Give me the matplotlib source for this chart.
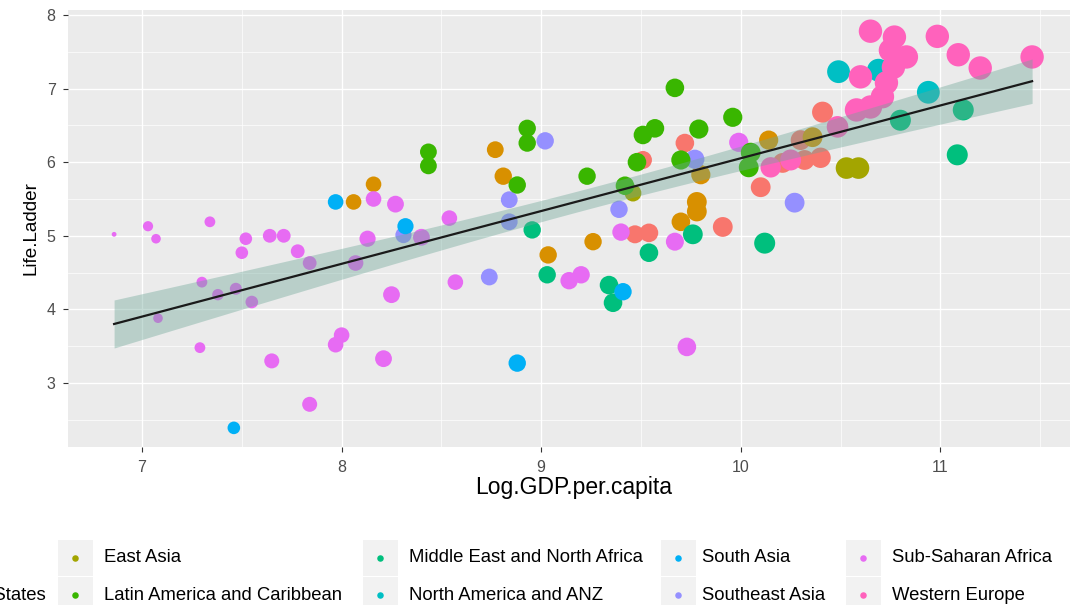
import matplotlib
matplotlib.use('Agg')
import matplotlib.pyplot as plt
from matplotlib.patches import Rectangle
import numpy as np

plt.rcParams['font.family'] = ['Liberation Sans', 'DejaVu Sans']

regions = ['Central and Eastern Europe', 'Commonwealth of Independent States', 'East Asia',
           'Latin America and Caribbean', 'Middle East and North Africa', 'North America and ANZ',
           'South Asia', 'Southeast Asia', 'Sub-Saharan Africa', 'Western Europe']
colors = ['#F8766D', '#D89000', '#A3A500', '#39B600', '#00BF7D',
          '#00BFC4', '#00B0F6', '#9590FF', '#E76BF3', '#FF62BC']
short = ['CEE', 'CIS', 'EA', 'LAC', 'MENA', 'NA', 'SA', 'SEA', 'SSA', 'WE']

# values (Log.GDP.per.capita, Life.Ladder, size variable, region)
gdp = [9.51, 9.47, 9.54, 9.72, 9.91, 10.10, 10.21, 10.30, 10.32, 10.40, 10.41,
       8.06, 8.16, 8.77, 8.81, 9.035, 9.26, 9.80, 9.78, 9.78, 9.70, 10.14, 10.36,
       10.49, 10.69, 10.94,
       6.86, 7.03, 7.07, 7.34, 7.30, 7.29, 7.08, 7.38, 7.47, 7.55, 7.50, 7.52, 7.64, 7.71,
       7.78, 7.84, 7.65, 7.84, 7.97, 8.00, 8.21, 8.25, 8.07, 8.13, 8.16, 8.27, 8.40, 8.54,
       8.57, 9.14, 9.20, 9.40, 9.67, 9.73, 9.99,
       8.31, 8.74, 8.84, 8.84, 9.02, 9.39, 9.77, 10.27,
       8.955, 9.03, 9.34, 9.36, 9.54, 9.76, 10.12, 10.80, 11.115, 11.085,
       7.46, 7.97, 8.32, 8.88, 9.41,
       9.46, 10.53, 10.59,
       8.435, 8.435, 8.88, 8.93, 8.93, 9.23, 9.42, 9.48, 9.51, 9.57, 9.67, 9.79, 9.70,
       9.96, 10.05, 10.04,
       10.15, 10.25, 10.485, 10.65, 10.77, 10.75, 10.765, 10.73, 10.71, 10.65, 10.58,
       10.83, 10.60, 10.985, 11.09, 11.20, 11.46]
ladder = [6.03, 5.02, 5.04, 6.26, 5.12, 5.66, 5.99, 6.30, 6.03, 6.06, 6.68,
          5.46, 5.70, 6.17, 5.81, 4.74, 4.92, 5.83, 5.46, 5.33, 5.19, 6.30, 6.34,
          7.23, 7.25, 6.95,
          5.02, 5.13, 4.96, 5.19, 4.37, 3.48, 3.88, 4.20, 4.28, 4.10, 4.77, 4.96, 5.00, 5.00,
          4.79, 4.63, 3.30, 2.71, 3.52, 3.65, 3.33, 4.20, 4.63, 4.96, 5.50, 5.43, 4.98, 5.24,
          4.37, 4.39, 4.47, 5.05, 4.92, 3.49, 6.27,
          5.01, 4.44, 5.49, 5.19, 6.29, 5.36, 6.04, 5.45,
          5.08, 4.47, 4.33, 4.09, 4.77, 5.02, 4.90, 6.57, 6.71, 6.10,
          2.39, 5.46, 5.13, 3.27, 4.24,
          5.58, 5.92, 5.92,
          6.14, 5.95, 5.69, 6.46, 6.26, 5.81, 5.68, 6.00, 6.37, 6.46, 7.01, 6.45, 6.03,
          6.61, 6.13, 5.93,
          5.93, 6.03, 6.48, 7.78, 7.70, 7.52, 7.29, 7.08, 6.89, 6.75, 6.71,
          7.43, 7.16, 7.71, 7.46, 7.28, 7.43]
health = [65, 65, 66, 66, 68, 68, 68, 68, 68, 69, 70,
          61, 61, 63, 64, 64, 64, 67, 68, 68, 66, 67, 68,
          73, 73, 73,
          43, 52, 51, 53, 53, 53, 51, 54, 55, 56, 56, 56, 58, 58,
          58, 58, 60, 60, 61, 61, 63, 63, 61, 62, 61, 63, 63, 61,
          61, 64, 64, 64, 65, 66, 67,
          62, 63, 63, 63, 64, 64, 67, 68,
          64, 64, 66, 66, 66, 68, 70, 70, 70, 70,
          56, 61, 62, 64, 64,
          63, 71, 71,
          63, 63, 64, 64, 64, 64, 66, 66, 66, 66, 66, 67, 67,
          67, 68, 68,
          69, 70, 71, 74, 74, 74, 74, 74, 74, 74, 74,
          74, 74, 74, 74, 74, 74]
region = (['CEE'] * 11 + ['CIS'] * 12 + ['NA'] * 3 + ['SSA'] * 35 + ['SEA'] * 8
          + ['MENA'] * 10 + ['SA'] * 5 + ['EA'] * 3 + ['LAC'] * 16 + ['WE'] * 17)

x = np.array(gdp)
y = np.array(ladder)
h = np.array(health)
point_colors = [colors[short.index(r)] for r in region]

# size scale: px diameter from the size variable
diam_px = 6 + (h - 45) * 0.6
sizes = (diam_px * 0.72) ** 2

fig = plt.figure(figsize=(10.7, 6.05), dpi=100)
ax = fig.add_axes([68 / 1070, 158 / 605, 1012 / 1070, 437 / 605])
ax.set_facecolor('#EBEBEB')
ax.set_xlim(6.629, 11.70)
ax.set_ylim(2.13, 8.068)

ax.set_xticks([7, 8, 9, 10, 11])
ax.set_xticks([7.5, 8.5, 9.5, 10.5, 11.5], minor=True)
ax.set_yticks([3, 4, 5, 6, 7, 8])
ax.set_yticks([2.5, 3.5, 4.5, 5.5, 6.5, 7.5], minor=True)
ax.grid(which='major', color='white', linewidth=1.0)
ax.grid(which='minor', color='white', linewidth=0.5)
ax.set_axisbelow(True)
for s in ax.spines.values():
    s.set_visible(False)
ax.tick_params(which='major', length=3.5, width=0.8, color='#333333',
               labelsize=11.5, labelcolor='#4D4D4D')
ax.tick_params(axis='x', pad=5.5)
ax.tick_params(axis='y', pad=5.5)
ax.tick_params(which='minor', length=0)

ax.scatter(x, y, s=sizes, c=point_colors, linewidths=0, zorder=2)

# linear fit with 95% band
n = len(x)
b, a = np.polyfit(x, y, 1)
xs = np.linspace(x.min(), x.max(), 80)
yhat = a + b * xs
resid = y - (a + b * x)
sd = np.sqrt(np.sum(resid ** 2) / (n - 2))
se = sd * np.sqrt(1 / n + (xs - x.mean()) ** 2 / np.sum((x - x.mean()) ** 2))
ax.fill_between(xs, yhat - 1.98 * se, yhat + 1.98 * se, color='#6EA798', alpha=0.4,
                linewidth=0, zorder=3)
ax.plot(xs, yhat, color='#1A1A1A', linewidth=1.6, zorder=4)

ax.set_xlabel('Log.GDP.per.capita', fontsize=16.5, color='black', labelpad=1)
ax.set_ylabel('Life.Ladder', fontsize=13.6, color='black', labelpad=5)

# legend drawn in pixel coordinates (cut off on the left like the source)
leg = fig.add_axes([0, 0, 1, 1], zorder=-1)
leg.set_xlim(0, 1070)
leg.set_ylim(605, 0)
leg.axis('off')
marker_x = [-300, 75, 380, 678, 863]
text_x = [46, 104, 409, 702, 892]
row_y = [558, 595]
for i, name in enumerate(regions):
    col, row = divmod(i, 2)
    leg.add_patch(Rectangle((marker_x[col] - 17.5, row_y[row] - 18), 35, 36,
                            color='#F2F2F2', linewidth=0))
    leg.scatter([marker_x[col]], [row_y[row]], s=22, color=colors[i], linewidths=0)
    if col == 0:
        if row == 1:
            leg.text(text_x[col], row_y[row], name, fontsize=13.3, ha='right', va='center')
    else:
        leg.text(text_x[col], row_y[row], name, fontsize=13.3, ha='left', va='center')

fig.savefig('out.png', dpi=100)
